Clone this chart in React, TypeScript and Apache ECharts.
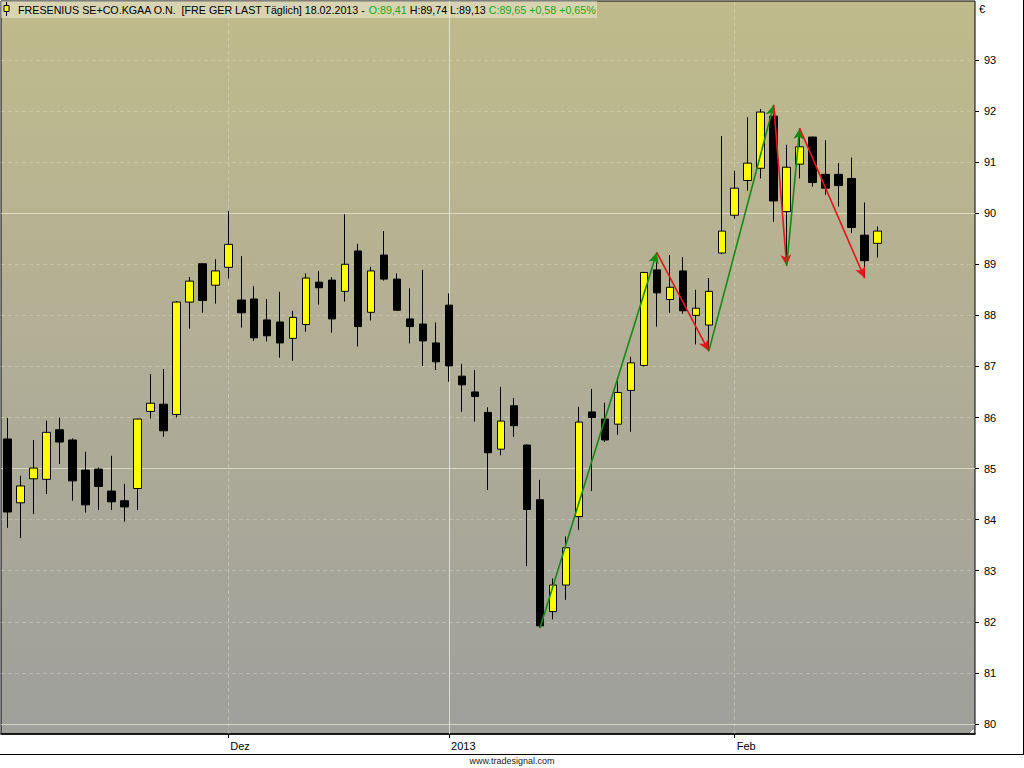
import React, { useEffect, useRef } from "react";
import * as echarts from "echarts";

// Trading days (FRE, Xetra) 08.11.2012 – 18.02.2013
const dates = [
  "2012-11-08", "2012-11-09", "2012-11-12", "2012-11-13", "2012-11-14", "2012-11-15", "2012-11-16",
  "2012-11-19", "2012-11-20", "2012-11-21", "2012-11-22", "2012-11-23", "2012-11-26", "2012-11-27",
  "2012-11-28", "2012-11-29", "2012-11-30",
  "2012-12-03", "2012-12-04", "2012-12-05", "2012-12-06", "2012-12-07", "2012-12-10", "2012-12-11",
  "2012-12-12", "2012-12-13", "2012-12-14", "2012-12-17", "2012-12-18", "2012-12-19", "2012-12-20",
  "2012-12-21", "2012-12-27", "2012-12-28",
  "2013-01-02", "2013-01-03", "2013-01-04", "2013-01-07", "2013-01-08", "2013-01-09", "2013-01-10",
  "2013-01-11", "2013-01-14", "2013-01-15", "2013-01-16", "2013-01-17", "2013-01-18", "2013-01-21",
  "2013-01-22", "2013-01-23", "2013-01-24", "2013-01-25", "2013-01-28", "2013-01-29", "2013-01-30",
  "2013-01-31",
  "2013-02-01", "2013-02-04", "2013-02-05", "2013-02-06", "2013-02-07", "2013-02-08", "2013-02-11",
  "2013-02-12", "2013-02-13", "2013-02-14", "2013-02-15", "2013-02-18",
];
// empty future slots on the right of the chart
const futureDates = ["2013-02-19", "2013-02-20", "2013-02-21", "2013-02-22", "2013-02-25", "2013-02-26", "2013-02-27"];

const opens = [
  85.58, 84.33, 84.80, 84.79, 85.76, 85.56, 84.97, 84.99, 84.56, 84.37,
  84.61, 86.12, 86.26, 86.06, 88.26, 89.01, 88.59, 88.94, 88.30, 88.32,
  87.91, 87.87, 87.55, 87.82, 88.65, 88.69, 88.47, 89.26, 88.06, 89.18,
  88.71, 87.93, 87.83, 87.46, 88.20, 86.81, 86.50, 86.10, 85.38, 86.23,
  85.46, 84.39, 82.20, 82.72, 84.06, 86.11, 85.97, 85.87, 86.53, 87.02,
  88.89, 88.31, 88.87, 88.00, 87.81, 89.22, 89.96, 90.64, 90.88, 91.90,
  90.03, 90.96, 91.49, 90.76, 90.76, 90.68, 89.57, 89.41,
];
const closes = [
  84.15, 84.66, 85.01, 85.71, 85.52, 84.76, 84.29, 84.65, 84.35, 84.25,
  85.97, 86.28, 85.74, 88.26, 88.67, 88.29, 88.87, 89.39, 88.05, 87.56,
  87.60, 87.46, 87.96, 88.73, 88.54, 87.93, 89.00, 87.78, 88.87, 88.71,
  88.10, 87.78, 87.50, 87.09, 87.01, 86.64, 86.41, 85.31, 85.93, 85.84,
  84.20, 81.92, 82.72, 83.45, 85.91, 86.00, 85.56, 86.49, 87.07, 88.84,
  88.44, 88.55, 88.09, 88.14, 88.47, 89.65, 90.49, 90.98, 91.98, 90.24,
  90.90, 91.30, 90.60, 90.49, 90.54, 89.72, 89.07, 89.65,
];
const lows = [
  83.84, 83.64, 84.11, 84.50, 85.09, 84.37, 84.14, 84.19, 84.19, 83.96,
  84.19, 85.98, 85.62, 86.00, 87.74, 88.05, 88.23, 88.72, 87.76, 87.50,
  87.49, 87.17, 87.11, 87.68, 88.21, 87.66, 88.27, 87.39, 87.90, 88.68,
  88.09, 87.45, 87.01, 86.93, 86.70, 86.11, 85.92, 84.58, 85.26, 85.62,
  83.09, 81.88, 82.05, 82.43, 83.80, 84.56, 85.52, 85.66, 85.72, 87.00,
  87.78, 88.05, 88.03, 87.43, 87.30, 89.20, 89.89, 90.44, 90.68, 89.83,
  88.97, 90.68, 90.52, 90.36, 90.13, 89.61, 88.73, 89.13,
];
const highs = [
  85.99, 84.86, 85.56, 85.94, 86.00, 85.59, 85.33, 85.02, 85.25, 84.70,
  85.98, 86.85, 86.95, 88.28, 88.75, 89.01, 89.10, 90.04, 89.16, 88.57,
  88.32, 88.46, 88.09, 88.82, 88.87, 88.75, 89.98, 89.40, 88.95, 89.65,
  88.82, 88.53, 88.89, 87.86, 88.43, 87.05, 86.93, 86.20, 86.60, 86.38,
  85.48, 84.78, 82.85, 83.67, 86.21, 86.56, 86.29, 86.73, 87.19, 88.85,
  89.23, 89.18, 89.14, 88.50, 88.73, 91.51, 90.83, 91.88, 92.04, 92.12,
  91.34, 91.66, 91.50, 91.43, 90.98, 91.09, 90.21, 89.74,
];

// Month / year boundaries on the time axis
const monthDates = ["2012-12-03", "2013-01-02", "2013-02-01"];
const monthLabels = ["Dez", "2013", "Feb"];
const monthSolid = [false, true, false];

// Price axis
const priceTicks = [80, 81, 82, 83, 84, 85, 86, 87, 88, 89, 90, 91, 92, 93];
const solidPriceLevels = [80, 85, 90];

// ZigZag pivots (candle index, price)
const pivotIdx = [41, 50, 54, 59, 60, 61, 66];
const pivotVal = [81.88, 89.23, 87.30, 92.12, 88.97, 91.66, 88.73];

const FONT = "Liberation Sans, Arial, sans-serif";

export default function App() {
  const ref = useRef<HTMLDivElement>(null);

  useEffect(() => {
    document.body.style.margin = "0";
    if (!ref.current) return;
    const chart = echarts.init(ref.current, undefined, { renderer: "svg" });

    const categories = dates.concat(futureDates);
    const candleData = dates.map((_, i) => [opens[i], closes[i], lows[i], highs[i]]);
    const labelOf: Record<string, string> = {};
    monthDates.forEach((d, i) => (labelOf[d] = monthLabels[i]));

    const gridLines: any[] = [];
    priceTicks.forEach((v) => {
      const solid = solidPriceLevels.indexOf(v) >= 0;
      gridLines.push({
        yAxis: v,
        lineStyle: solid
          ? { color: "rgba(236,234,214,0.7)", width: 1, type: "solid" }
          : { color: "rgba(236,234,214,0.3)", width: 1, type: [4, 3] },
      });
    });
    monthDates.forEach((d, i) => {
      gridLines.push({
        xAxis: d,
        lineStyle: monthSolid[i]
          ? { color: "rgba(236,240,230,0.75)", width: 1, type: "solid" }
          : { color: "rgba(236,234,214,0.35)", width: 1, type: [4, 3] },
      });
    });

    const arrows: any[] = [];
    for (let k = 0; k < pivotIdx.length - 1; k++) {
      const up = pivotVal[k + 1] > pivotVal[k];
      arrows.push([
        { coord: [dates[pivotIdx[k]], pivotVal[k]] },
        {
          coord: [dates[pivotIdx[k + 1]], pivotVal[k + 1]],
          lineStyle: { color: up ? "#138a13" : "#e8141b", width: 1.6, type: "solid" },
        },
      ]);
    }

    const option: any = {
      animation: false,
      backgroundColor: "#ffffff",
      grid: {
        left: 1,
        right: 49,
        top: 1,
        bottom: 34,
        show: true,
        backgroundColor: new echarts.graphic.LinearGradient(0, 0, 0, 1, [
          { offset: 0, color: "#c0bb8b" },
          { offset: 0.5, color: "#b0ae96" },
          { offset: 1, color: "#9f9f9c" },
        ]),
        borderColor: "#000",
        borderWidth: 1,
      },
      xAxis: {
        type: "category",
        data: categories,
        boundaryGap: true,
        axisLine: { show: true, lineStyle: { color: "#000", width: 1.5 } },
        axisTick: {
          show: true,
          alignWithLabel: true,
          interval: (_i: number, v: string) => v in labelOf,
          length: 4,
          lineStyle: { color: "#000" },
        },
        axisLabel: {
          interval: (_i: number, v: string) => v in labelOf,
          formatter: (v: string) => labelOf[v] || "",
          align: "left",
          padding: [0, 0, 0, 2],
          margin: 6,
          fontSize: 11,
          color: "#000",
          fontFamily: FONT,
        },
        splitLine: { show: false },
      },
      yAxis: {
        type: "value",
        position: "right",
        min: 79.804,
        max: 94.154,
        axisLine: { show: false },
        axisTick: { show: true, customValues: priceTicks, length: 4, lineStyle: { color: "#000" } },
        axisLabel: { customValues: priceTicks, fontSize: 11, color: "#000", margin: 9, fontFamily: FONT },
        splitLine: { show: false },
      },
      series: [
        {
          type: "line",
          data: categories.map(() => null),
          showSymbol: false,
          silent: true,
          markLine: {
            silent: true,
            z: 1,
            symbol: ["none", "none"],
            label: { show: false },
            data: gridLines,
          },
        },
        {
          type: "candlestick",
          data: candleData,
          barWidth: 8,
          z: 2,
          itemStyle: {
            color: "#ffff00",
            color0: "#000000",
            borderColor: "#000000",
            borderColor0: "#000000",
            borderWidth: 1,
          },
          markLine: {
            silent: true,
            z: 5,
            symbol: ["none", "arrow"],
            symbolSize: [8, 11],
            label: { show: false },
            data: arrows,
          },
        },
      ],
      graphic: [
        {
          type: "rect",
          z: 10,
          shape: { x: 1, y: 1, width: 596, height: 17 },
          style: { fill: "rgba(240,238,215,0.5)" },
        },
        {
          type: "line",
          z: 11,
          shape: { x1: 6.5, y1: 2, x2: 6.5, y2: 16 },
          style: { stroke: "#000", lineWidth: 1 },
        },
        {
          type: "rect",
          z: 12,
          shape: { x: 4, y: 5.5, width: 5, height: 6 },
          style: { fill: "#ffff00", stroke: "#000", lineWidth: 1 },
        },
        {
          type: "text",
          z: 12,
          x: 18,
          y: 9.5,
          style: {
            text:
              "{k|FRESENIUS SE+CO.KGAA O.N.  [FRE GER LAST Täglich] 18.02.2013 - }{g|O:89,41}{k| H:89,74 L:89,13 }{g|C:89,65 +0,58 +0,65%}",
            verticalAlign: "middle",
            align: "left",
            rich: {
              k: { fill: "#000", fontSize: 10.7, fontFamily: FONT },
              g: { fill: "#1ea51e", fontSize: 10.7, fontFamily: FONT },
            },
          },
        },
        {
          type: "text",
          z: 12,
          x: 979,
          y: 9,
          style: { text: "€", fill: "#000", fontSize: 11, fontFamily: FONT, verticalAlign: "middle", align: "left" },
        },
        {
          type: "polygon",
          z: 12,
          shape: { points: [[974, 728], [974, 733], [969, 733]] },
          style: { fill: "#ffffff", stroke: "#555", lineWidth: 0.5 },
        },
        {
          type: "line",
          z: 12,
          shape: { x1: 0, y1: 754.5, x2: 1023.5, y2: 754.5 },
          style: { stroke: "#000", lineWidth: 1 },
        },
        {
          type: "line",
          z: 12,
          shape: { x1: 1023.5, y1: 0, x2: 1023.5, y2: 755 },
          style: { stroke: "#000", lineWidth: 1 },
        },
        {
          type: "text",
          z: 12,
          x: 512,
          y: 761,
          style: {
            text: "www.tradesignal.com",
            fill: "#222",
            fontSize: 9,
            fontFamily: FONT,
            align: "center",
            verticalAlign: "middle",
          },
        },
      ],
    };

    chart.setOption(option);
    return () => chart.dispose();
  }, []);

  return <div ref={ref} style={{ width: 1024, height: 768, background: "#fff" }} />;
}
